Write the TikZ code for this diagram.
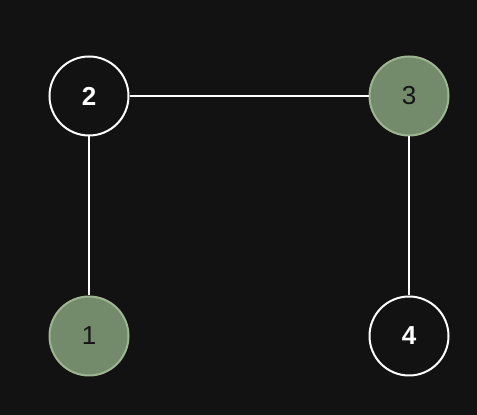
\documentclass[tikz,border=0pt]{standalone}
\usepackage{fontspec}
\setmainfont{Liberation Sans}
\definecolor{bg}{HTML}{121212}
\definecolor{leaf}{HTML}{738B6A}
\definecolor{leafrim}{HTML}{9DB592}
\definecolor{ink}{HTML}{151515}
\tikzset{
  vertex/.style={circle, minimum size=79pt, inner sep=0pt, line width=2pt, font=\fontsize{26}{30}\selectfont},
  plain/.style={vertex, draw=white, fill=bg, text=white, font=\fontsize{26}{30}\selectfont\bfseries},
  marked/.style={vertex, draw=leafrim, fill=leaf, text=ink},
  link/.style={draw=white, line width=1.6pt}
}
\begin{document}
\begin{tikzpicture}[x=1pt,y=1pt]
        \fill[bg] (0,0) rectangle (477,415);
        \node[plain] (v2) at (89,319) {2};
        \node[marked] (v3) at (409,319) {3};
        \node[marked] (v1) at (89,79) {1};
        \node[plain] (v4) at (409,79) {4};
        \draw[link] (v2) -- (v3);
        \draw[link] (v2) -- (v1);
        \draw[link] (v3) -- (v4);
      \end{tikzpicture}
\end{document}
